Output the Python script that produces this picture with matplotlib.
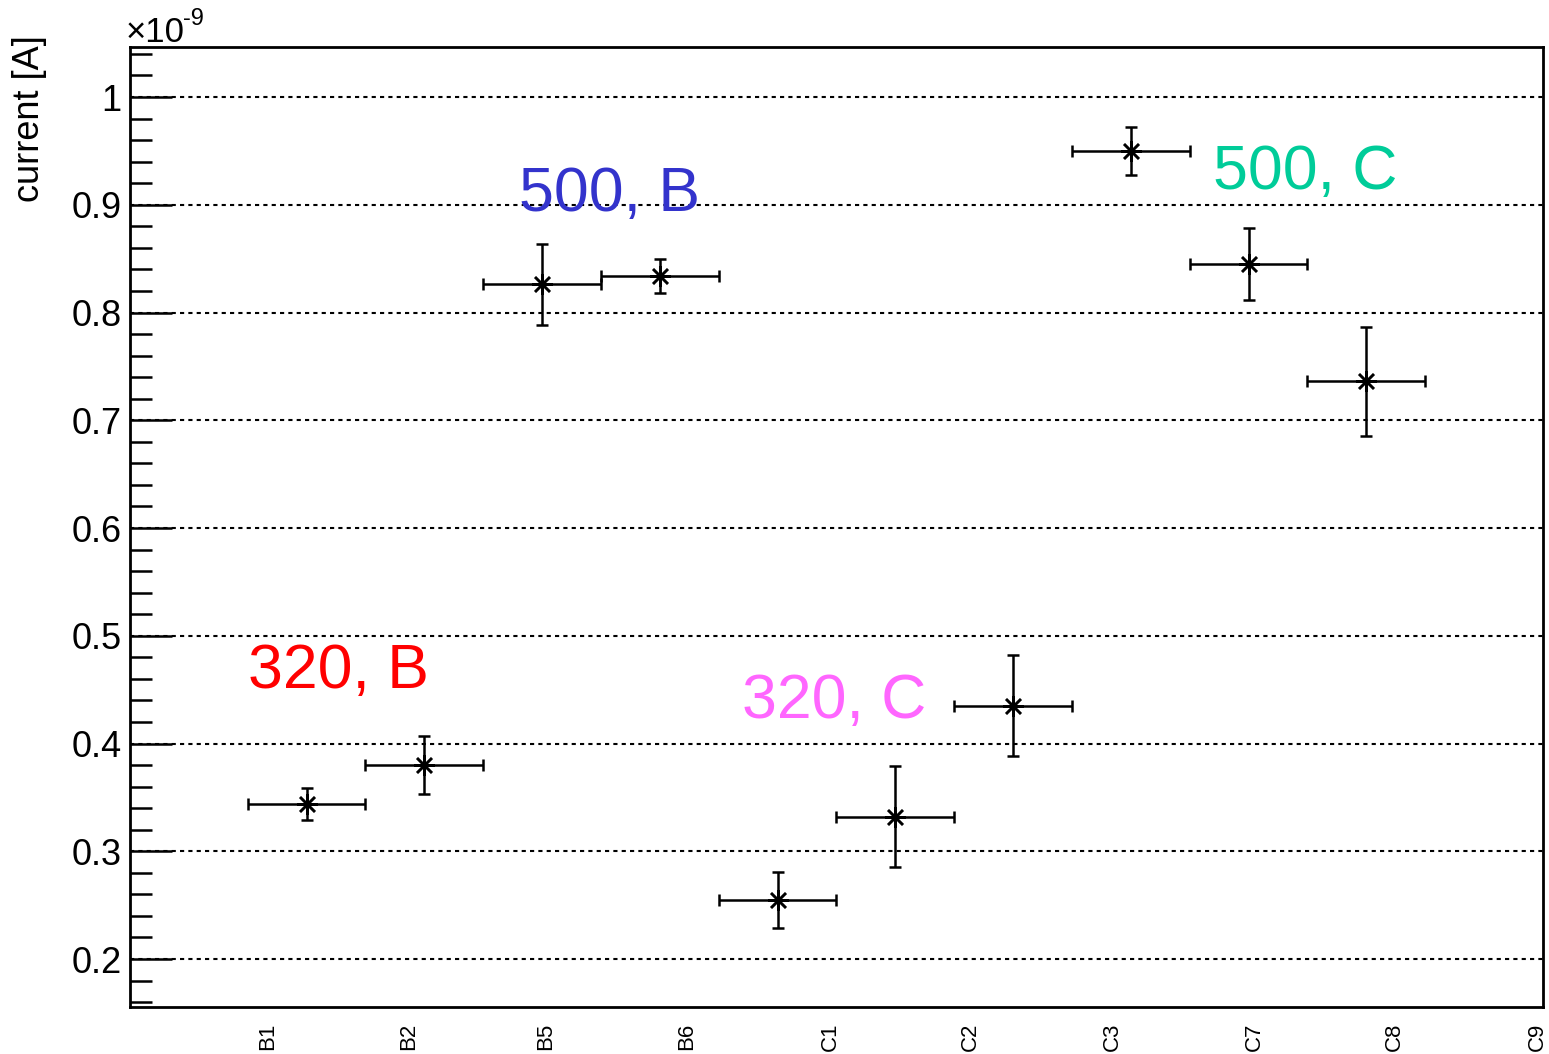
import matplotlib
matplotlib.use("Agg")
import matplotlib.pyplot as plt
from matplotlib.ticker import MultipleLocator, FixedLocator, FuncFormatter

plt.rcParams['font.family'] = ['Liberation Sans', 'DejaVu Sans']

# data (current in units of 1e-9 A)
x_pos = [1.5, 2.5, 3.5, 4.5, 5.5, 6.5, 7.5, 8.5, 9.5, 10.5]
x_err = [0.5] * 10
current = [0.344, 0.380, 0.826, 0.834, 0.255, 0.332, 0.435, 0.950, 0.845, 0.736]
current_err = [0.015, 0.027, 0.038, 0.016, 0.026, 0.047, 0.047, 0.022, 0.033, 0.051]

bin_labels = ['B1', 'B2', 'B5', 'B6', 'C1', 'C2', 'C3', 'C7', 'C8', 'C9']
label_pos = [1.17, 2.37, 3.53, 4.73, 5.95, 7.14, 8.34, 9.55, 10.74, 11.95]

annot_text = ['320, B', '500, B', '320, C', '500, C']
annot_x = [1.0, 3.30, 5.20, 9.20]
annot_y = [0.4515, 0.894, 0.4237, 0.9146]
annot_color = ['#ff0000', '#3333cc', '#ff66ff', '#00cc99']

fig = plt.figure(figsize=(15.49, 10.54), dpi=100)
ax = fig.add_axes([0.0839, 0.0446, 0.9122, 0.9108])

ax.errorbar(x_pos, current, xerr=x_err, yerr=current_err, fmt='none',
            ecolor='black', elinewidth=1.8, capsize=4.3, capthick=1.8, zorder=3)
ax.plot(x_pos, current, linestyle='none', marker=(8, 2, 0), markersize=15,
        markeredgewidth=1.8, color='black', zorder=4)

for t, xx, yy, c in zip(annot_text, annot_x, annot_y, annot_color):
    ax.text(xx, yy, t, color=c, fontsize=45, ha='left', va='baseline', zorder=5)

ax.set_xlim(0, 12)
ax.set_ylim(0.1555, 1.0464)

ax.yaxis.set_major_locator(MultipleLocator(0.1))
ax.yaxis.set_minor_locator(MultipleLocator(0.02))
ax.yaxis.set_major_formatter(FuncFormatter(lambda v, p: ('%g' % round(v, 3))))
ax.tick_params(axis='y', which='major', direction='in', length=30, width=1.8,
               labelsize=26, pad=6, right=False)
ax.tick_params(axis='y', which='minor', direction='in', length=16, width=1.8, right=False)

ax.xaxis.set_major_locator(FixedLocator(label_pos))
ax.set_xticklabels(bin_labels, rotation=90, fontsize=16)
ax.tick_params(axis='x', which='both', length=0, pad=11, top=False)
ax.xaxis.set_minor_locator(FixedLocator([]))

ax.yaxis.grid(True, which='major', color='black', linestyle=(0, (2, 2)), linewidth=1.5)
ax.set_axisbelow(True)

for s in ax.spines.values():
    s.set_linewidth(2.0)

fig.text(30 / 1549, 1 - 35 / 1054, 'current [A]', rotation=90, fontsize=26,
         ha='center', va='top')
fig.text(126 / 1549, 1 - 42 / 1054, '\u00d710', fontsize=25,
         ha='left', va='baseline')
fig.text(183 / 1549, 1 - 25 / 1054, '-9', fontsize=17,
         ha='left', va='baseline')

fig.savefig('out.png', dpi=100)
